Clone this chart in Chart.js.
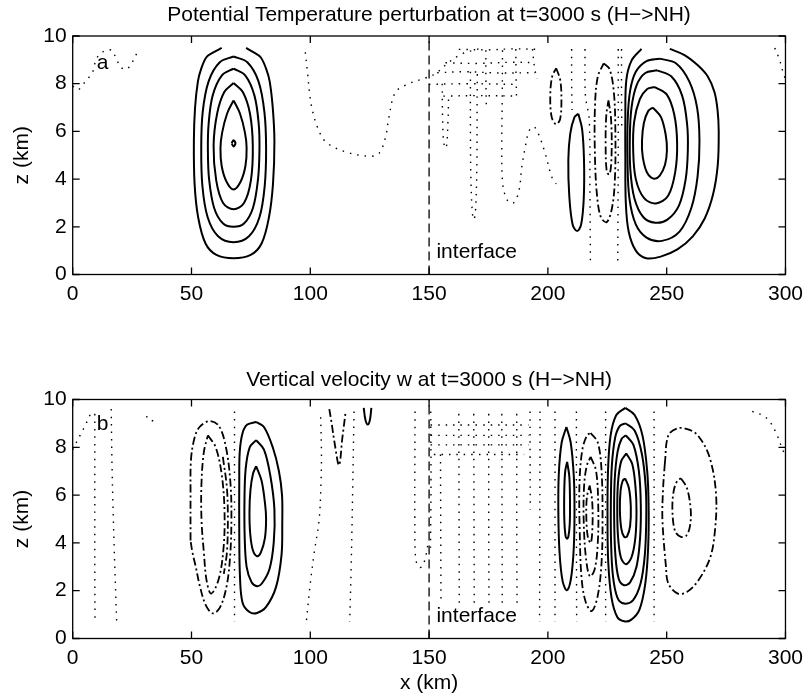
<!DOCTYPE html>
<html>
<head>
<meta charset="utf-8">
<script src="https://cdn.jsdelivr.net/npm/chart.js@4.4.0/dist/chart.umd.min.js"></script>
<style>
html, body { margin: 0; padding: 0; background: #fff; }
#wrap { position: relative; width: 810px; height: 698px; }
canvas { position: absolute; left: 0; }
#cA { top: 0; }
#cB { top: 320px; }
</style>
</head>
<body>
<div id="wrap">
<canvas id="cA" width="810" height="320"></canvas>
<canvas id="cB" width="810" height="378"></canvas>
</div>
<script>
const xTicks = [0, 50, 100, 150, 200, 250, 300];
const zTicks = [0, 2, 4, 6, 8, 10];
const interfaceX = 150;

// panel a - potential temperature perturbation, contours as [x km, z km]
const thetaSolid = [
  [[66.9,5.5],[67.7,5.63],[68.5,5.5],[67.7,5.37],[66.9,5.5]],
  [[67.7,7.3],[70.4,6.75],[72.5,5.95],[73.2,5.3],[72.7,4.55],[70.7,3.9],[67.7,3.56],[64.7,3.9],[62.7,4.55],[62.2,5.3],[62.9,5.95],[65.0,6.75],[67.7,7.3]],
  [[67.7,8.03],[71.6,7.65],[74.6,6.75],[75.8,5.4],[75.0,3.95],[72.1,3.0],[67.7,2.74],[63.3,3.0],[60.4,3.95],[59.3,5.4],[60.8,6.75],[63.8,7.65],[67.7,8.03]],
  [[67.7,8.63],[72.6,8.35],[76.5,7.5],[78.3,6.3],[78.6,5.2],[78.0,4.0],[75.9,2.8],[72.2,2.15],[67.7,2.0],[63.2,2.15],[59.5,2.8],[57.4,4.0],[56.9,5.2],[57.2,6.3],[58.9,7.5],[62.8,8.35],[67.7,8.63]],
  [[67.7,9.14],[73.5,8.9],[78.2,8.1],[80.7,6.8],[81.4,5.3],[80.8,3.7],[78.6,2.4],[74.2,1.6],[67.7,1.35],[61.2,1.6],[56.8,2.4],[54.6,3.7],[54.1,5.3],[54.7,6.8],[57.2,8.1],[61.9,8.9],[67.7,9.14]],
  [[62.7,9.5],[59.0,9.3],[56.2,9.1],[54.0,8.6],[52.7,8.1],[51.5,7.0],[51.0,5.6],[51.3,3.8],[52.8,2.4],[55.9,1.3],[60.5,0.82],[67.7,0.68],[74.9,0.82],[79.5,1.3],[82.6,2.4],[84.3,3.8],[84.9,5.6],[84.2,7.0],[82.9,8.1],[81.5,8.6],[79.2,9.1],[76.4,9.3],[73.0,9.5]],
  [[244.2,7.0],[247.6,6.6],[249.6,5.85],[250.1,5.2],[249.3,4.6],[247.1,4.15],[244.5,4.02],[241.6,4.3],[239.9,4.95],[239.6,5.6],[240.4,6.35],[242.2,6.85],[244.2,7.0]],
  [[245.0,7.86],[250.0,7.55],[253.2,6.7],[254.4,5.5],[253.6,4.3],[250.6,3.3],[245.5,2.98],[240.5,3.2],[237.0,4.0],[235.9,5.2],[236.3,6.4],[238.7,7.35],[241.8,7.78],[245.0,7.86]],
  [[246.0,8.56],[252.0,8.3],[256.5,7.5],[258.6,6.3],[258.9,5.2],[258.0,4.0],[255.2,2.9],[250.3,2.3],[245.2,2.17],[240.2,2.4],[236.4,3.2],[234.7,4.4],[234.5,5.8],[235.2,7.0],[237.4,7.95],[241.0,8.45],[246.0,8.56]],
  [[247.0,9.05],[254.0,8.85],[259.5,8.1],[262.8,7.0],[263.8,5.6],[263.0,4.1],[260.4,2.8],[255.4,1.8],[248.0,1.41],[241.5,1.55],[237.0,2.1],[234.3,3.2],[233.5,4.8],[233.6,6.5],[234.6,7.7],[237.0,8.5],[241.5,8.95],[247.0,9.05]],
  [[239.4,9.46],[235.2,8.97],[233.0,8.14],[232.6,6.5],[232.6,5.0],[232.8,3.0],[234.0,1.8],[237.0,1.0],[241.4,0.68],[247.5,0.75],[254.5,1.05],[261.0,1.6],[266.0,2.35],[269.5,3.35],[271.5,4.6],[271.9,6.0],[271.4,6.9],[270.1,7.65],[267.3,8.3],[263.1,8.77],[257.5,9.2],[251.3,9.46]],
  [[212.8,6.74],[214.4,6.1],[215.2,4.8],[215.1,3.2],[214.0,2.1],[212.3,1.82],[210.4,2.1],[209.0,3.3],[208.6,4.8],[209.4,5.9],[211.2,6.6],[212.8,6.74]]
];
const thetaDashDot = [
  [[223.5,8.85],[226.0,8.6],[227.8,7.6],[228.4,6.0],[228.2,4.0],[227.0,2.8],[224.8,2.2],[222.3,2.4],[220.6,3.4],[219.8,5.0],[219.8,7.0],[221.0,8.3],[223.5,8.85]],
  [[225.5,7.3],[226.6,6.5],[226.8,5.0],[226.0,4.2],[224.8,4.3],[224.3,5.5],[224.6,6.7],[225.5,7.3]],
  [[203.5,8.65],[205.2,8.15],[205.7,7.3],[205.1,6.5],[203.4,6.3],[201.6,6.6],[201.0,7.5],[201.8,8.3],[203.5,8.65]]
];
const thetaDotted = [
  [[0,7.9],[2.3,7.75],[5.0,8.05],[8.4,8.5],[10.0,9.05],[13.0,9.35],[16.4,9.4],[18.5,9.0],[20.5,8.67],[22.6,8.6],[24.7,8.84],[27.9,9.46]],
  [[295.5,9.5],[297.5,9.0],[299.2,8.4],[300,8.2]],
  [[97.9,9.32],[98.8,8.49],[99.8,7.51],[100.9,6.88],[103.0,6.18],[106.5,5.56],[114.9,5.14],[124.7,4.96],[128.9,5.07],[131.7,5.77],[133.1,6.6],[135.9,7.65],[141.5,8.0],[148.5,8.24],[152.7,8.42],[158.3,8.9],[163.8,9.25],[170.8,9.46]],
  [[162.5,9.44],[175.0,9.42],[185.0,9.46],[196.0,9.44]],
  [[156.9,8.88],[170.0,8.85],[185.0,8.9],[194.6,8.88]],
  [[153.4,8.46],[165.0,8.5],[180.0,8.45],[194.6,8.46]],
  [[149.9,7.97],[165.0,8.0],[187.6,7.97]],
  [[156.0,7.48],[170.0,7.5],[187.6,7.48]],
  [[155.5,8.0],[155.7,6.5],[156.2,5.5],[157.2,5.3],[157.9,6.3],[158.2,7.4]],
  [[167.4,8.5],[167.4,6.0],[167.6,4.0],[168.2,2.6],[168.8,2.3],[169.5,2.6],[170.1,4.5],[170.2,7.0],[170.3,8.5]],
  [[173.9,9.4],[173.9,8.2],[174.1,7.0]],
  [[180.9,9.4],[180.8,7.5],[180.6,5.5],[181.0,3.8],[183.0,3.1],[185.5,3.0],[187.8,3.5],[189.0,4.5],[190.4,5.3],[192.0,6.0],[194.0,6.2],[196.0,5.9],[198.8,5.1],[201.6,4.1],[203.5,3.8]],
  [[186.5,9.45],[186.6,8.3],[186.8,7.4]],
  [[193.5,9.45],[194.5,8.6],[195.5,8.2]],
  [[210.0,9.45],[210.0,8.0],[210.2,6.9]],
  [[215.6,9.45],[215.8,7.5],[217.4,6.5],[217.7,3.5],[217.9,0.55]],
  [[229.6,9.45],[229.6,5.0],[229.4,0.55]],
  [[231.0,9.45],[231.0,7.5],[231.1,6.0]]
];

// panel b - vertical velocity w
const wSolid = [
  [[77.2,9.06],[80.5,8.85],[84.2,8.0],[86.8,7.0],[88.1,6.0],[88.2,4.8],[87.9,3.5],[85.6,2.16],[81.4,1.32],[77.6,1.07],[74.4,1.11],[71.5,1.5],[70.4,2.6],[70.1,4.5],[70.1,6.5],[70.3,7.8],[71.5,8.6],[73.5,8.95],[77.2,9.06]],
  [[77.2,8.3],[80.5,7.9],[83.2,6.8],[84.9,5.4],[84.6,4.0],[82.8,2.9],[79.6,2.3],[77.6,2.19],[75.3,2.35],[73.2,3.0],[72.4,4.2],[72.3,5.8],[72.8,7.1],[74.5,8.0],[77.2,8.3]],
  [[77.2,7.21],[79.5,6.6],[81.0,5.6],[81.4,5.0],[80.9,4.2],[79.2,3.6],[77.6,3.44],[75.8,3.7],[74.7,4.4],[74.4,5.3],[74.8,6.2],[75.9,6.9],[77.2,7.21]],
  [[122.5,9.65],[123.2,9.15],[124.2,8.95],[125.1,9.15],[125.7,9.65]],
  [[207.8,8.85],[209.6,8.2],[210.9,6.8],[211.2,5.4],[210.9,3.8],[209.7,2.5],[208.0,2.02],[206.2,2.4],[204.9,3.6],[204.4,5.3],[204.6,6.9],[205.8,8.2],[207.8,8.85]],
  [[208.1,7.39],[209.0,6.8],[209.3,5.8],[209.2,4.8],[208.6,4.25],[208.0,4.18],[207.4,4.3],[206.9,5.0],[206.9,6.2],[207.3,7.0],[208.1,7.39]],
  [[232.6,9.65],[236.5,9.35],[239.8,8.5],[241.8,7.0],[242.4,5.5],[242.2,3.8],[241.0,2.3],[238.5,1.2],[235.0,0.78],[232.1,0.72],[229.2,0.9],[226.8,1.7],[225.4,3.2],[225.1,5.0],[225.3,7.0],[226.4,8.5],[228.8,9.35],[232.6,9.65]],
  [[232.8,9.0],[236.5,8.7],[239.6,7.7],[241.2,6.3],[241.4,5.0],[240.8,3.5],[239.0,2.3],[235.8,1.6],[232.1,1.46],[229.3,1.7],[227.4,2.6],[226.6,4.0],[226.5,5.6],[226.9,7.2],[228.3,8.4],[230.3,8.9],[232.8,9.0]],
  [[232.8,8.5],[236.0,8.1],[238.3,7.0],[239.1,5.6],[238.8,4.2],[237.3,3.0],[234.6,2.35],[232.1,2.23],[229.8,2.5],[228.4,3.5],[227.9,5.0],[228.1,6.6],[229.3,7.8],[231.0,8.35],[232.8,8.5]],
  [[233.0,7.74],[235.5,7.3],[236.9,6.3],[237.3,5.3],[236.8,4.2],[235.2,3.4],[232.8,3.11],[230.7,3.4],[229.5,4.3],[229.2,5.4],[229.5,6.5],[230.8,7.4],[233.0,7.74]],
  [[232.5,6.7],[234.1,6.3],[234.9,5.5],[234.6,4.7],[233.3,4.27],[232.1,4.25],[230.9,4.6],[230.3,5.4],[230.6,6.2],[231.5,6.6],[232.5,6.7]]
];
const wDashDot = [
  [[49.6,4.1],[49.6,6.0],[49.8,7.5],[51.3,8.4],[53.4,8.85],[57.6,9.1],[61.5,8.9],[64.5,8.0],[66.4,6.5],[66.8,5.0],[66.3,3.5],[64.8,2.2],[62.0,1.3],[59.0,1.05],[56.0,1.4],[53.5,2.2],[51.8,3.0],[50.4,3.6],[49.6,4.1]],
  [[56.9,8.5],[60.2,8.0],[62.8,6.8],[63.9,5.3],[63.5,3.8],[61.5,2.5],[58.3,1.88],[56.4,2.4],[55.2,3.6],[54.2,5.0],[54.2,6.5],[55.2,7.8],[56.9,8.5]],
  [[63.2,7.6],[64.9,6.3],[65.3,5.0],[64.9,3.6],[63.6,2.7]],
  [[108.0,9.6],[109.0,9.0],[110.2,8.2],[112.1,7.25],[113.5,8.4],[114.9,9.5]],
  [[218.0,8.6],[221.0,8.2],[222.6,7.0],[223.0,5.0],[222.6,3.2],[221.0,1.8],[218.5,1.15],[216.0,1.5],[214.2,2.5],[213.4,4.5],[213.3,6.5],[214.5,7.9],[216.5,8.5],[218.0,8.6]],
  [[218.0,7.6],[220.3,7.0],[221.2,5.5],[221.0,4.0],[219.7,2.9],[217.7,2.6],[216.1,3.3],[215.1,4.8],[215.2,6.3],[216.3,7.2],[218.0,7.6]],
  [[217.6,6.4],[218.6,5.8],[218.8,4.8],[218.1,4.0],[216.9,4.2],[216.2,5.0],[216.4,5.9],[217.6,6.4]],
  [[249.2,7.3],[250.7,8.5],[254.7,8.8],[259.0,8.75],[263.1,8.5],[268.0,7.6],[270.8,6.0],[270.1,4.3],[268.0,3.3],[263.1,2.4],[258.5,1.95],[254.7,1.88],[250.7,2.3],[249.7,3.0],[248.2,5.0],[248.5,6.3],[249.2,7.3]],
  [[256.0,6.7],[258.5,6.3],[260.1,5.4],[259.8,4.7],[258.2,4.3],[256.0,4.25],[253.5,4.5],[252.4,5.4],[253.0,6.2],[254.5,6.6],[256.0,6.7]]
];
const wDotted = [
  [[0,7.9],[1.0,8.1],[3.1,8.5],[5.2,8.9],[7.5,9.4]],
  [[9.3,9.4],[9.3,6.0],[9.3,3.0],[9.4,0.7]],
  [[16.2,9.6],[16.6,7.0],[17.4,4.0],[18.5,0.7]],
  [[31.0,9.3],[33.0,9.1],[35.0,9.2]],
  [[68.1,9.5],[68.1,5.0],[68.1,0.7]],
  [[98.4,0.77],[100.0,2.3],[101.6,3.56],[103.7,4.95],[104.5,6.5],[104.7,7.74],[104.3,9.5]],
  [[118.4,9.5],[117.8,6.0],[117.2,3.0],[116.6,0.7]],
  [[144.1,9.5],[144.0,7.0],[144.0,5.0],[144.3,3.4],[145.5,3.0],[147.0,3.0],[148.5,3.4],[149.6,4.0]],
  [[150.7,9.5],[150.8,6.5],[150.6,3.8]],
  [[154.8,7.7],[154.9,4.5],[155.0,1.6]],
  [[162.5,9.4],[162.6,5.5],[162.7,1.4]],
  [[168.8,9.4],[168.9,5.5],[169.0,1.4]],
  [[175.1,9.4],[175.1,5.5],[175.2,1.4]],
  [[180.6,9.4],[180.7,5.5],[180.8,1.4]],
  [[186.9,9.4],[186.9,5.5],[187.0,1.4]],
  [[150.6,8.93],[170.0,8.93],[191.8,8.93]],
  [[150.6,8.5],[170.0,8.5],[191.8,8.5]],
  [[150.6,8.1],[170.0,8.1],[191.8,8.1]],
  [[152.0,7.7],[170.0,7.7],[190.0,7.7]],
  [[192.5,9.5],[192.5,7.5],[192.6,5.4]],
  [[196.7,9.5],[196.6,5.0],[196.5,0.7]],
  [[203.0,9.5],[203.0,5.0],[203.0,0.7]],
  [[212.0,9.5],[212.0,5.0],[212.1,0.7]],
  [[224.3,9.5],[224.3,5.0],[224.3,0.7]],
  [[244.7,9.5],[244.7,5.0],[244.7,0.7]],
  [[286.0,9.5],[291.0,9.3],[293.9,9.0],[296.5,8.5],[298.8,7.9],[300,7.7]]
];

const FONT = "'Liberation Sans', Arial, Helvetica, sans-serif";
const styles = {
  solid: { w: 2, dash: [] },
  dashdot: { w: 1.8, dash: [8, 3, 2, 3] },
  dotted: { w: 1.4, dash: [1.5, 6] },
  iface: { w: 1.3, dash: [9, 5] }
};

function contourSets(list, style) {
  return list.map(c => ({
    data: c.map(p => ({ x: p[0], y: p[1] })),
    showLine: true,
    pointRadius: 0,
    pointHoverRadius: 0,
    borderColor: '#000',
    borderWidth: styles[style].w,
    borderDash: styles[style].dash,
    borderCapStyle: 'butt',
    borderJoinStyle: 'round',
    tension: style === 'iface' ? 0 : 0.35,
    fill: false
  }));
}

// box with inward ticks on all four sides, like the original axes
const framePlugin = {
  id: 'frame',
  afterDatasetsDraw(chart) {
    const { ctx, chartArea: a, scales: { x, y } } = chart;
    ctx.save();
    ctx.strokeStyle = '#000';
    ctx.lineWidth = 1.3;
    ctx.setLineDash([]);
    ctx.strokeRect(a.left, a.top, a.right - a.left, a.bottom - a.top);
    ctx.beginPath();
    xTicks.forEach(v => {
      const px = x.getPixelForValue(v);
      ctx.moveTo(px, a.bottom); ctx.lineTo(px, a.bottom - 7);
      ctx.moveTo(px, a.top); ctx.lineTo(px, a.top + 7);
    });
    zTicks.forEach(v => {
      const py = y.getPixelForValue(v);
      ctx.moveTo(a.left, py); ctx.lineTo(a.left + 7, py);
      ctx.moveTo(a.right, py); ctx.lineTo(a.right - 7, py);
    });
    ctx.stroke();
    ctx.restore();
  }
};

const notesPlugin = {
  id: 'notes',
  afterDraw(chart, args, opts) {
    const { ctx, scales: { x, y } } = chart;
    ctx.save();
    ctx.fillStyle = '#000';
    ctx.font = '21px ' + FONT;
    ctx.textAlign = 'left';
    ctx.textBaseline = 'alphabetic';
    (opts.items || []).forEach(t => {
      ctx.fillText(t.text, x.getPixelForValue(t.x), y.getPixelForValue(t.z));
    });
    ctx.restore();
  }
};

function makeChart(id, cfg) {
  const datasets = [].concat(
    contourSets(cfg.dotted, 'dotted'),
    contourSets(cfg.dashdot, 'dashdot'),
    contourSets(cfg.solid, 'solid'),
    contourSets([[[interfaceX, 0], [interfaceX, 10]]], 'iface')
  );
  return new Chart(document.getElementById(id), {
    type: 'scatter',
    data: { datasets },
    plugins: [framePlugin, notesPlugin],
    options: {
      responsive: false,
      animation: false,
      devicePixelRatio: 1,
      layout: { padding: { left: 0, right: 22, top: 0, bottom: 0 } },
      plugins: {
        legend: { display: false },
        tooltip: { enabled: false },
        title: {
          display: true,
          text: cfg.title,
          color: '#000',
          fullSize: false,
          font: { family: FONT, size: 21, weight: 'normal', lineHeight: 1.2 },
          padding: cfg.titlePad
        },
        notes: { items: cfg.notes }
      },
      scales: {
        x: {
          type: 'linear',
          min: 0, max: 300,
          grid: { display: false, drawTicks: false },
          border: { display: false },
          ticks: { stepSize: 50, autoSkip: false, maxRotation: 0, color: '#000', padding: 7, font: { family: FONT, size: 21 } },
          title: { display: !!cfg.xTitle, text: cfg.xTitle || '', color: '#000', padding: { top: 0, bottom: 2.4 }, font: { family: FONT, size: 21 } },
          afterFit: s => { s.height = cfg.xAxisH; }
        },
        y: {
          type: 'linear',
          min: 0, max: 10,
          grid: { display: false, drawTicks: false },
          border: { display: false },
          ticks: { stepSize: 2, autoSkip: false, color: '#000', padding: 6, font: { family: FONT, size: 21 } },
          title: { display: true, text: 'z (km)', color: '#000', padding: { top: 9.4, bottom: 0 }, font: { family: FONT, size: 21 } },
          afterFit: s => { s.width = 72.7; }
        }
      }
    }
  });
}

makeChart('cA', {
  title: 'Potential Temperature perturbation at t=3000 s (H\u2212>NH)',
  titlePad: { top: 2.4, bottom: 8.4 },
  xAxisH: 45.5,
  solid: thetaSolid, dashdot: thetaDashDot, dotted: thetaDotted,
  notes: [{ text: 'a', x: 10.1, z: 8.63 }, { text: 'interface', x: 153.1, z: 0.68 }]
});

makeChart('cB', {
  title: 'Vertical velocity w at t=3000 s (H\u2212>NH)',
  titlePad: { top: 47.4, bottom: 6.9 },
  xAxisH: 59.5,
  xTitle: 'x (km)',
  solid: wSolid, dashdot: wDashDot, dotted: wDotted,
  notes: [{ text: 'b', x: 10.1, z: 8.72 }, { text: 'interface', x: 153.1, z: 0.7 }]
});
</script>
</body>
</html>
